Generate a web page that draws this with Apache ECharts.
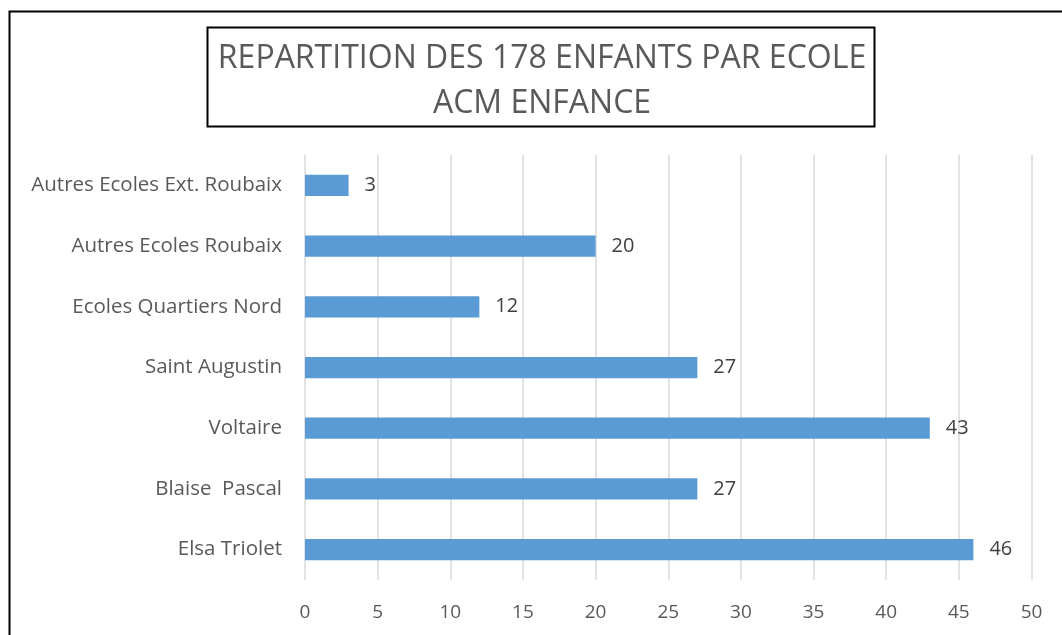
<!DOCTYPE html>
<html>
<head>
<meta charset="utf-8">
<script src="https://cdn.jsdelivr.net/npm/echarts@6/dist/echarts.min.js"></script>
<style>
    html, body {margin: 0; padding: 0; background: #fff;}
    #main {width: 1062px; height: 635px;}
</style>
</head>
<body>
<div id="main"></div>
<script>
// données
let ecoles = ['Elsa Triolet', 'Blaise  Pascal', 'Voltaire', 'Saint Augustin', 'Ecoles Quartiers Nord', 'Autres Ecoles Roubaix', 'Autres Ecoles Ext. Roubaix'];
let enfants = [46, 27, 43, 27, 12, 20, 3];
let titre = 'REPARTITION DES 178 ENFANTS PAR ECOLE\nACM ENFANCE';

let font = 'Open Sans, Liberation Sans, sans-serif';
let myChart = echarts.init(document.getElementById('main'), null, {renderer: 'canvas'});

myChart.setOption({
    animation: false,
    title: {
        text: titre,
        left: 537,
        top: 31,
        textAlign: 'center',
        textStyle: {
            color: '#595959',
            fontFamily: font,
            fontWeight: 'normal',
            fontSize: 32,
            lineHeight: 45
        }
    },
    graphic: [
        {   // cadre extérieur
            type: 'rect',
            shape: {x: 9.5, y: 11.5, width: 1100, height: 700},
            style: {fill: 'none', stroke: '#000', lineWidth: 2}
        },
        {   // cadre du titre
            type: 'rect',
            shape: {x: 207.5, y: 27.5, width: 667, height: 99},
            style: {fill: 'none', stroke: '#000', lineWidth: 2}
        }
    ],
    grid: {left: 305, right: 30.5, top: 155, bottom: 55, containLabel: false},
    xAxis: {
        type: 'value',
        min: 0,
        max: 50,
        interval: 5,
        axisLine: {show: false},
        axisTick: {show: false},
        splitLine: {lineStyle: {color: '#d9d9d9', width: 1.5}},
        axisLabel: {color: '#595959', fontSize: 19, fontFamily: font, margin: 23}
    },
    yAxis: {
        type: 'category',
        data: ecoles,
        axisLine: {show: false},
        axisTick: {show: false},
        axisLabel: {color: '#595959', fontSize: 20.5, fontFamily: font, margin: 23}
    },
    series: [{
        type: 'bar',
        data: enfants,
        barWidth: '35%',
        silent: true,
        itemStyle: {color: '#5b9bd5'},
        label: {
            show: true,
            position: 'right',
            distance: 16,
            color: '#404040',
            fontSize: 20,
            fontFamily: font
        }
    }]
});
</script>
</body>
</html>
